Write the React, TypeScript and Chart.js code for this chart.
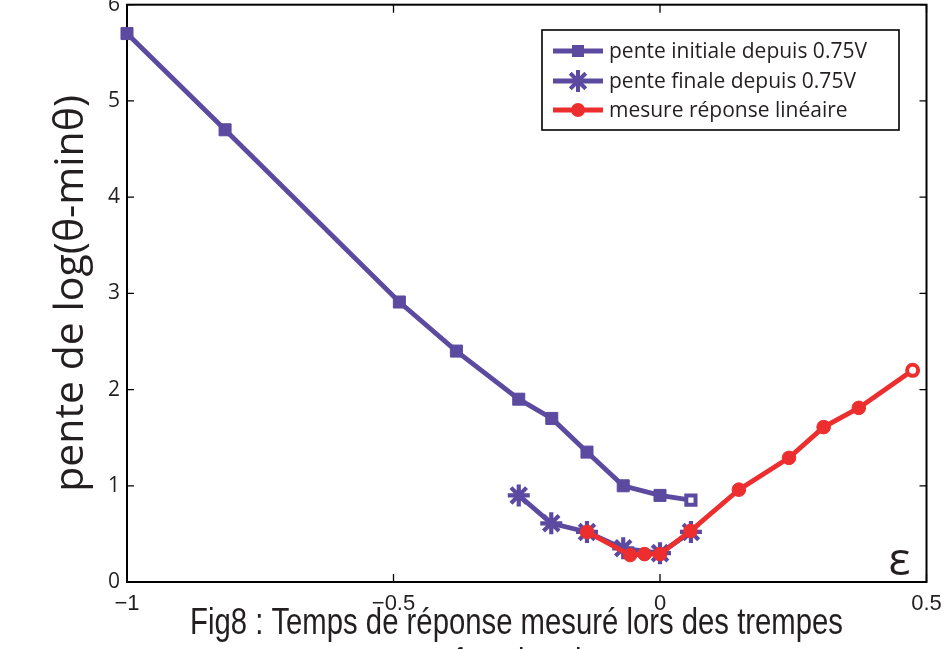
import React, { useEffect, useRef } from 'react';
import { Chart, registerables } from 'chart.js';

Chart.register(...registerables);

const PURPLE = '#5b4a9f';
const RED = '#ec2e2e';
const INK = '#231f20';

const initialX = [-1, -0.816, -0.489, -0.382, -0.265, -0.203, -0.137, -0.069, 0.0, 0.058];
const initialY = [5.7, 4.7, 2.91, 2.4, 1.9, 1.7, 1.35, 1.0, 0.9, 0.85];
const finalX = [-0.265, -0.204, -0.137, -0.069, 0.0, 0.058];
const finalY = [0.9, 0.61, 0.52, 0.35, 0.3, 0.52];
const linearX = [-0.137, -0.056, -0.029, 0.0, 0.057, 0.148, 0.242, 0.307, 0.373, 0.474];
const linearY = [0.52, 0.28, 0.29, 0.29, 0.53, 0.96, 1.29, 1.61, 1.81, 2.2];

const xTicks = [-1, -0.5, 0, 0.5];
const yTicks = [0, 1, 2, 3, 4, 5, 6];
const seriesLabels = ['pente initiale depuis 0.75V', 'pente finale depuis 0.75V', 'mesure réponse linéaire'];
const yTitle = 'pente de log(θ-minθ)';
const captionLines = ['Fig8 : Temps de réponse mesuré lors des trempes', 'en fonction de ε'];
const cornerLabel = 'ε';

const SANS = '"Open Sans", "Noto Sans", sans-serif';
const NARROW = '"Liberation Sans Narrow", "Arial Narrow", "Liberation Sans", sans-serif';

function pts(xs: number[], ys: number[]) {
  return xs.map((x, i) => ({ x, y: ys[i] }));
}
function lastWhite(n: number, c: string) {
  return Array.from({ length: n }, (_, i) => (i === n - 1 ? '#ffffff' : c));
}
function lastVal(n: number, a: number, b: number) {
  return Array.from({ length: n }, (_, i) => (i === n - 1 ? b : a));
}

function drawMarker(ctx: CanvasRenderingContext2D, style: string, x: number, y: number, color: string) {
  ctx.save();
  ctx.fillStyle = color;
  ctx.strokeStyle = color;
  if (style === 'rect') {
    const s = 12;
    ctx.fillRect(x - s / 2, y - s / 2, s, s);
  } else if (style === 'star') {
    ctx.lineWidth = 4;
    const r = 11;
    ctx.beginPath();
    for (let k = 0; k < 4; k++) {
      const a = (k * Math.PI) / 4;
      ctx.moveTo(x - Math.cos(a) * r, y - Math.sin(a) * r);
      ctx.lineTo(x + Math.cos(a) * r, y + Math.sin(a) * r);
    }
    ctx.stroke();
  } else {
    ctx.beginPath();
    ctx.arc(x, y, 7, 0, Math.PI * 2);
    ctx.fill();
  }
  ctx.restore();
}

const framePlugin = {
  id: 'frame',
  beforeDatasetsDraw(chart: any) {
    const { ctx, chartArea: a, scales } = chart;
    ctx.save();
    ctx.strokeStyle = '#000';
    ctx.lineWidth = 2;
    ctx.strokeRect(a.left, a.top, a.right - a.left, a.bottom - a.top);
    ctx.lineWidth = 1.3;
    ctx.beginPath();
    for (const v of yTicks) {
      const p = scales.y.getPixelForValue(v);
      ctx.moveTo(a.left, p);
      ctx.lineTo(a.left + 7, p);
      ctx.moveTo(a.right, p);
      ctx.lineTo(a.right - 7, p);
    }
    for (const v of xTicks) {
      const p = scales.x.getPixelForValue(v);
      ctx.moveTo(p, a.bottom);
      ctx.lineTo(p, a.bottom - 8);
      ctx.moveTo(p, a.top);
      ctx.lineTo(p, a.top + 8);
    }
    ctx.stroke();
    ctx.restore();
  },
  afterDatasetsDraw(chart: any) {
    const { ctx, chartArea: a } = chart;
    const bx = 542, by = 30, bw = 357, bh = 100;
    ctx.save();
    ctx.fillStyle = '#fff';
    ctx.fillRect(bx, by, bw, bh);
    ctx.strokeStyle = '#000';
    ctx.lineWidth = 1.6;
    ctx.strokeRect(bx, by, bw, bh);
    const rows = [51, 81, 110];
    chart.data.datasets.forEach((ds: any, i: number) => {
      const y = rows[i];
      ctx.strokeStyle = ds.borderColor;
      ctx.lineWidth = 4.8;
      ctx.beginPath();
      ctx.moveTo(553, y);
      ctx.lineTo(603, y);
      ctx.stroke();
      drawMarker(ctx, ds.pointStyle, 578, y, ds.borderColor);
      ctx.fillStyle = INK;
      ctx.font = '21px ' + SANS;
      ctx.textAlign = 'left';
      ctx.textBaseline = 'middle';
      ctx.fillText(ds.label, 609, y + 1);
    });
    ctx.fillStyle = INK;
    ctx.font = '46px ' + SANS;
    ctx.textAlign = 'right';
    ctx.textBaseline = 'alphabetic';
    ctx.fillText(cornerLabel, a.right - 16, a.bottom - 7);
    ctx.restore();
  },
  afterDraw(chart: any) {
    const { ctx } = chart;
    ctx.save();
    ctx.fillStyle = INK;
    ctx.font = '36px ' + NARROW;
    ctx.textAlign = 'center';
    ctx.textBaseline = 'alphabetic';
    const w = ctx.measureText(captionLines[0]).width;
    const sx = 653 / w;
    const cx = 516.5;
    const baselines = [634, 674];
    captionLines.forEach((t, i) => {
      ctx.save();
      ctx.translate(cx, baselines[i]);
      ctx.scale(sx, 1);
      ctx.fillText(t, 0, 0);
      ctx.restore();
    });
    ctx.restore();
  },
};

export default function App() {
  const ref = useRef<HTMLCanvasElement | null>(null);
  useEffect(() => {
    if (!ref.current) return;
    const n1 = initialX.length;
    const n3 = linearX.length;
    const chart = new Chart(ref.current, {
      type: 'line',
      data: {
        datasets: [
          {
            label: seriesLabels[0],
            data: pts(initialX, initialY),
            borderColor: PURPLE,
            backgroundColor: PURPLE,
            borderWidth: 4.8,
            pointStyle: 'rect',
            pointRadius: lastVal(n1, 8.5, 6.5),
            pointBorderWidth: lastVal(n1, 1, 4),
            pointBackgroundColor: lastWhite(n1, PURPLE),
            pointBorderColor: PURPLE,
            tension: 0,
            clip: false,
            order: 1,
          } as any,
          {
            label: seriesLabels[1],
            data: pts(finalX, finalY),
            borderColor: PURPLE,
            backgroundColor: PURPLE,
            borderWidth: 4.8,
            pointStyle: 'star',
            pointRadius: 11,
            pointBorderWidth: 4.2,
            pointBorderColor: PURPLE,
            pointBackgroundColor: PURPLE,
            tension: 0,
            clip: false,
            order: 2,
          } as any,
          {
            label: seriesLabels[2],
            data: pts(linearX, linearY),
            borderColor: RED,
            backgroundColor: RED,
            borderWidth: 4.8,
            pointStyle: 'circle',
            pointRadius: lastVal(n3, 6.8, 5.5),
            pointBorderWidth: lastVal(n3, 1, 4),
            pointBackgroundColor: lastWhite(n3, RED),
            pointBorderColor: RED,
            tension: 0,
            clip: false,
            order: 0,
          } as any,
        ],
      },
      options: {
        animation: false,
        responsive: false,
        devicePixelRatio: 1,
        layout: { autoPadding: false, padding: { left: 47, top: 4.7, right: 21.5, bottom: 0 } },
        plugins: { legend: { display: false }, tooltip: { enabled: false } },
        scales: {
          x: {
            type: 'linear',
            min: -1,
            max: 0.5,
            grid: { display: false, drawTicks: false },
            border: { display: false },
            afterBuildTicks: (s: any) => {
              s.ticks = xTicks.map((v) => ({ value: v }));
            },
            afterFit: (s: any) => {
              s.height = 67;
              s.paddingLeft = 0;
              s.paddingRight = 0;
              s.paddingTop = 0;
              s.paddingBottom = 0;
            },
            ticks: {
              autoSkip: false,
              maxRotation: 0,
              padding: 9,
              color: INK,
              font: { family: NARROW, size: 22 },
              callback: (v: any) => (Number(v) < 0 ? '\u2212' + Math.abs(Number(v)) : String(v)),
            },
          },
          y: {
            type: 'linear',
            min: 0,
            max: 6,
            grid: { display: false, drawTicks: false },
            border: { display: false },
            afterBuildTicks: (s: any) => {
              s.ticks = yTicks.map((v) => ({ value: v }));
            },
            afterFit: (s: any) => {
              s.width = 80;
              s.paddingTop = 0;
              s.paddingBottom = 0;
              s.paddingLeft = 0;
              s.paddingRight = 0;
            },
            ticks: {
              autoSkip: false,
              padding: 7,
              color: INK,
              font: { family: SANS, size: 21 },
            },
            title: {
              display: true,
              text: yTitle,
              color: INK,
              padding: 0,
              font: { family: SANS, size: 41 },
            },
          },
        },
      },
      plugins: [framePlugin],
    } as any);
    return () => chart.destroy();
  }, []);
  return (
    <div
      style={{
        position: 'fixed',
        left: 0,
        top: 0,
        width: 948,
        height: 649,
        overflow: 'hidden',
        background: '#fff',
      }}
    >
      <canvas ref={ref} width={948} height={649} style={{ display: 'block', width: 948, height: 649 }} />
    </div>
  );
}
